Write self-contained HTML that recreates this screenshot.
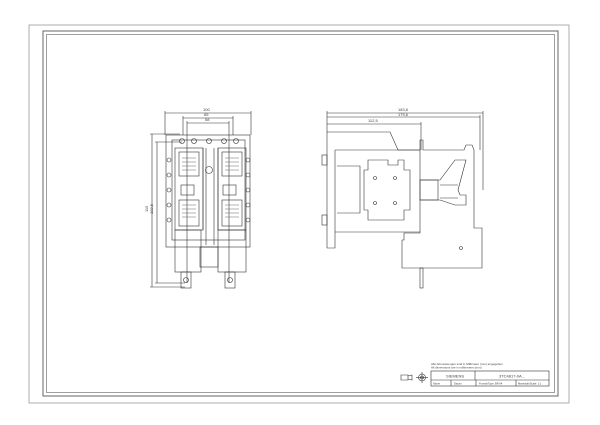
<!DOCTYPE html>
<html><head><style>
html,body{margin:0;padding:0;background:#fff;}
svg{display:block}
text{font-family:"Liberation Sans",sans-serif;fill:#444}
</style></head><body>
<svg width="600" height="425" viewBox="0 0 600 425" xmlns="http://www.w3.org/2000/svg">
<g fill="none" stroke="#666" stroke-width="0.8">
<rect x="29" y="25" width="540" height="378" stroke="#999"/>
<rect x="43" y="31" width="515" height="365" stroke-width="1"/>
<rect x="46.5" y="34.5" width="508" height="358" stroke="#888"/>
</g>

<g fill="none" stroke="#333" stroke-width="0.6">
<line x1="165" y1="113" x2="251" y2="113"/>
<line x1="165" y1="111" x2="165" y2="135"/><line x1="251" y1="111" x2="251" y2="135"/>
<line x1="183" y1="118" x2="233" y2="118"/>
<line x1="183" y1="116" x2="183" y2="135"/><line x1="233" y1="116" x2="233" y2="135"/>
<line x1="187" y1="123" x2="229" y2="123"/>
<line x1="187" y1="121" x2="187" y2="283"/><line x1="229" y1="121" x2="229" y2="283"/>
<line x1="152" y1="134" x2="152" y2="287"/>
<line x1="150" y1="134" x2="180" y2="134"/><line x1="150" y1="287" x2="185" y2="287"/>
<line x1="157" y1="142" x2="157" y2="283"/>
<line x1="155" y1="142" x2="182" y2="142"/><line x1="155" y1="283" x2="185" y2="283"/>
<rect x="166" y="135" width="84" height="112"/>
<rect x="172" y="140" width="73" height="100"/>
<rect x="175" y="148" width="28" height="82"/>
<rect x="218" y="148" width="28" height="82"/>
<rect x="179" y="152" width="20" height="24"/>
<rect x="222" y="152" width="20" height="24"/>
<rect x="179" y="200" width="20" height="26"/>
<rect x="222" y="200" width="20" height="26"/>
<rect x="181" y="185" width="13" height="10"/>
<rect x="223" y="185" width="13" height="10"/>
<line x1="203" y1="148" x2="203" y2="230"/><line x1="218" y1="148" x2="218" y2="230"/>
<line x1="206" y1="148" x2="206" y2="245"/><line x1="214" y1="148" x2="214" y2="245"/>
<circle cx="209" cy="170" r="3.5"/>
<circle cx="182" cy="141" r="2.5"/><circle cx="236" cy="141" r="2.5"/>
<circle cx="194" cy="141" r="2.5"/><circle cx="209" cy="141" r="2.5"/><circle cx="224" cy="141" r="2.5"/>
<circle cx="169" cy="160" r="2"/><circle cx="169" cy="175" r="2"/><circle cx="169" cy="190" r="2"/><circle cx="169" cy="205" r="2"/><circle cx="169" cy="220" r="2"/>
<circle cx="248" cy="160" r="2"/><circle cx="248" cy="175" r="2"/><circle cx="248" cy="190" r="2"/><circle cx="248" cy="205" r="2"/><circle cx="248" cy="220" r="2"/>
<rect x="175" y="230" width="26" height="42"/>
<rect x="218" y="230" width="28" height="42"/>
<rect x="200" y="247" width="18" height="20"/>
<rect x="181" y="272" width="10" height="16"/>
<rect x="225" y="272" width="10" height="16"/>
<circle cx="186" cy="280" r="2.5"/><circle cx="230" cy="280" r="2.5"/>
</g>
<g stroke="#666" stroke-width="0.5" fill="none">
<path d="M182 158h14M182 162h14M182 166h14M182 170h14M225 158h14M225 162h14M225 166h14M225 170h14M182 205h14M182 209h14M182 213h14M182 217h14M225 205h14M225 209h14M225 213h14M225 217h14"/>
</g>
<text x="203" y="111" font-size="4">100</text>
<text x="204" y="116" font-size="4">65</text>
<text x="205" y="121" font-size="4">58</text>
<text x="148" y="212" font-size="4" transform="rotate(-90 148 212)">115</text>
<text x="153" y="214" font-size="4" transform="rotate(-90 153 214)">102,5</text>

<g fill="none" stroke="#333" stroke-width="0.6">
<line x1="327" y1="113" x2="483" y2="113"/>
<line x1="327" y1="117" x2="480" y2="117"/>
<line x1="327" y1="124" x2="421" y2="124"/>
<line x1="327" y1="111" x2="327" y2="132"/>
<line x1="483" y1="111" x2="483" y2="190"/>
<line x1="480" y1="115" x2="480" y2="150"/>
<line x1="421" y1="122" x2="421" y2="150"/>
<path d="M327 132H390L398 150H420V140H423V150H464L466 145H472L474 150V228H482V268H402V240H404V233H420V232H335V248H327Z"/>
<path d="M335 150H420V232"/>
<path d="M335 150V232"/>
<rect x="322" y="155" width="5" height="10"/><rect x="322" y="215" width="5" height="10"/>
<path d="M337 166H360V213H337"/>
<path d="M368 160H388V165H398V160H404V170H410V210H404V220H368V210H364V170H368Z"/>
<circle cx="375" cy="178" r="1.5"/><circle cx="395" cy="178" r="1.5"/><circle cx="375" cy="203" r="1.5"/><circle cx="395" cy="203" r="1.5"/>
<path d="M420 180H440L455 160H466L458 190L460 195H466V205H455L440 200H420"/>
<path d="M440 185H458M440 198H458"/>
<rect x="420" y="180" width="18" height="20"/>
<circle cx="461" cy="248" r="1.5"/>
<rect x="420" y="268" width="3" height="20"/>
</g>
<text x="398" y="111" font-size="4">183,6</text>
<text x="398" y="116" font-size="4">179,6</text>
<text x="368" y="122" font-size="4">112,5</text>

<g fill="none" stroke="#333" stroke-width="0.6">
<rect x="431" y="371" width="118" height="15"/>
<line x1="431" y1="380" x2="549" y2="380"/>
<line x1="475" y1="371" x2="475" y2="380"/>
<line x1="451" y1="380" x2="451" y2="386"/>
<line x1="476" y1="380" x2="476" y2="386"/>
<line x1="516" y1="380" x2="516" y2="386"/>
<path d="M401 375h7v5h-7zM408 376l4 -1v5l-4-1"/>
<circle cx="422" cy="377.5" r="3.5"/><circle cx="422" cy="377.5" r="1.5"/>
<line x1="416" y1="377.5" x2="428" y2="377.5"/><line x1="422" y1="372" x2="422" y2="383"/>
</g>
<text x="431" y="365" font-size="3">Alle Abmessungen sind in Millimeter (mm) angegeben</text>
<text x="431" y="368.5" font-size="3">All dimensions are in millimeters (mm)</text>
<text x="446" y="377.5" font-size="4">SIEMENS</text>
<text x="499" y="377.5" font-size="4">3TC4817-0A...</text>
<text x="433" y="384.5" font-size="2.6">Name</text>
<text x="454" y="384.5" font-size="2.6">Datum</text>
<text x="479" y="384.5" font-size="2.6">Format/Type: BR A4</text>
<text x="518" y="384.5" font-size="2.6">Massstab/Scale: 1:1</text>
</svg>
</body></html>
